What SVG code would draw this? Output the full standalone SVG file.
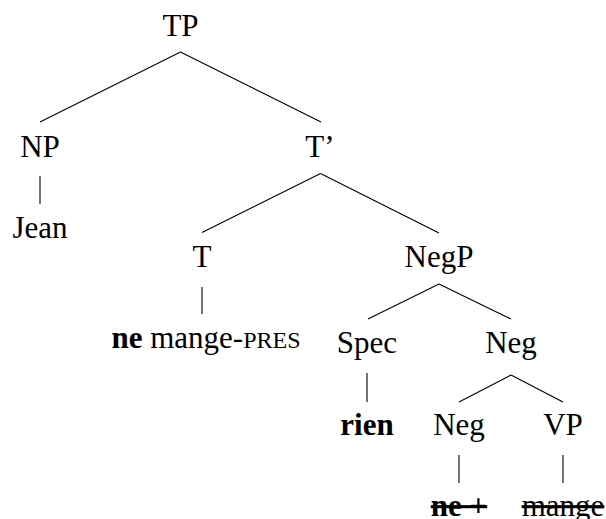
<svg xmlns="http://www.w3.org/2000/svg" width="606" height="519" viewBox="0 0 606 519">
<style>
text{font-family:"Liberation Serif","DejaVu Serif",serif;font-size:31px;fill:#000;text-anchor:middle}
.b{font-weight:bold}
.s{text-decoration:line-through}
#edges line{stroke:#000;stroke-width:1.1;fill:none}
</style>
<rect width="606" height="519" fill="#fff"/>
<g id="edges">
<line x1="180.5" y1="52" x2="40" y2="122"/>
<line x1="180.5" y1="52" x2="321" y2="122"/>
<line x1="40" y1="176" x2="40" y2="204"/>
<line x1="320.5" y1="173.5" x2="202" y2="232.5"/>
<line x1="320.5" y1="173.5" x2="439" y2="233"/>
<line x1="202" y1="287" x2="202" y2="314"/>
<line x1="439" y1="284" x2="368" y2="319"/>
<line x1="439" y1="284" x2="511" y2="319"/>
<line x1="367" y1="373" x2="367" y2="402"/>
<line x1="511" y1="375" x2="459" y2="402"/>
<line x1="511" y1="375" x2="563" y2="402"/>
<line x1="459" y1="455" x2="459" y2="483"/>
<line x1="563" y1="455" x2="563" y2="483"/>
</g>
<g id="TP"><text x="180.5" y="36" font-family="Liberation Serif, serif">TP</text></g>
<g id="NP"><text x="40" y="157">NP</text></g>
<g id="Jean"><text x="40" y="238">Jean</text></g>
<g id="Tbar"><text x="320" y="157">T’</text></g>
<g id="T"><text x="202" y="267">T</text></g>
<g id="T-word"><text x="206" y="348"><tspan class="b">ne</tspan> mange-<tspan font-size="24">PRES</tspan></text></g>
<g id="NegP"><text x="439" y="267">NegP</text></g>
<g id="Spec"><text x="367" y="353">Spec</text></g>
<g id="rien"><text class="b" x="367" y="435">rien</text></g>
<g id="NegBar"><text x="511" y="353">Neg</text></g>
<g id="Neg"><text x="459" y="435">Neg</text></g>
<g id="ne-plus"><text class="b s" x="459" y="516">ne +</text></g>
<g id="VP"><text x="563" y="435">VP</text></g>
<g id="mange"><text class="s" x="563" y="516">mange</text></g>
</svg>
